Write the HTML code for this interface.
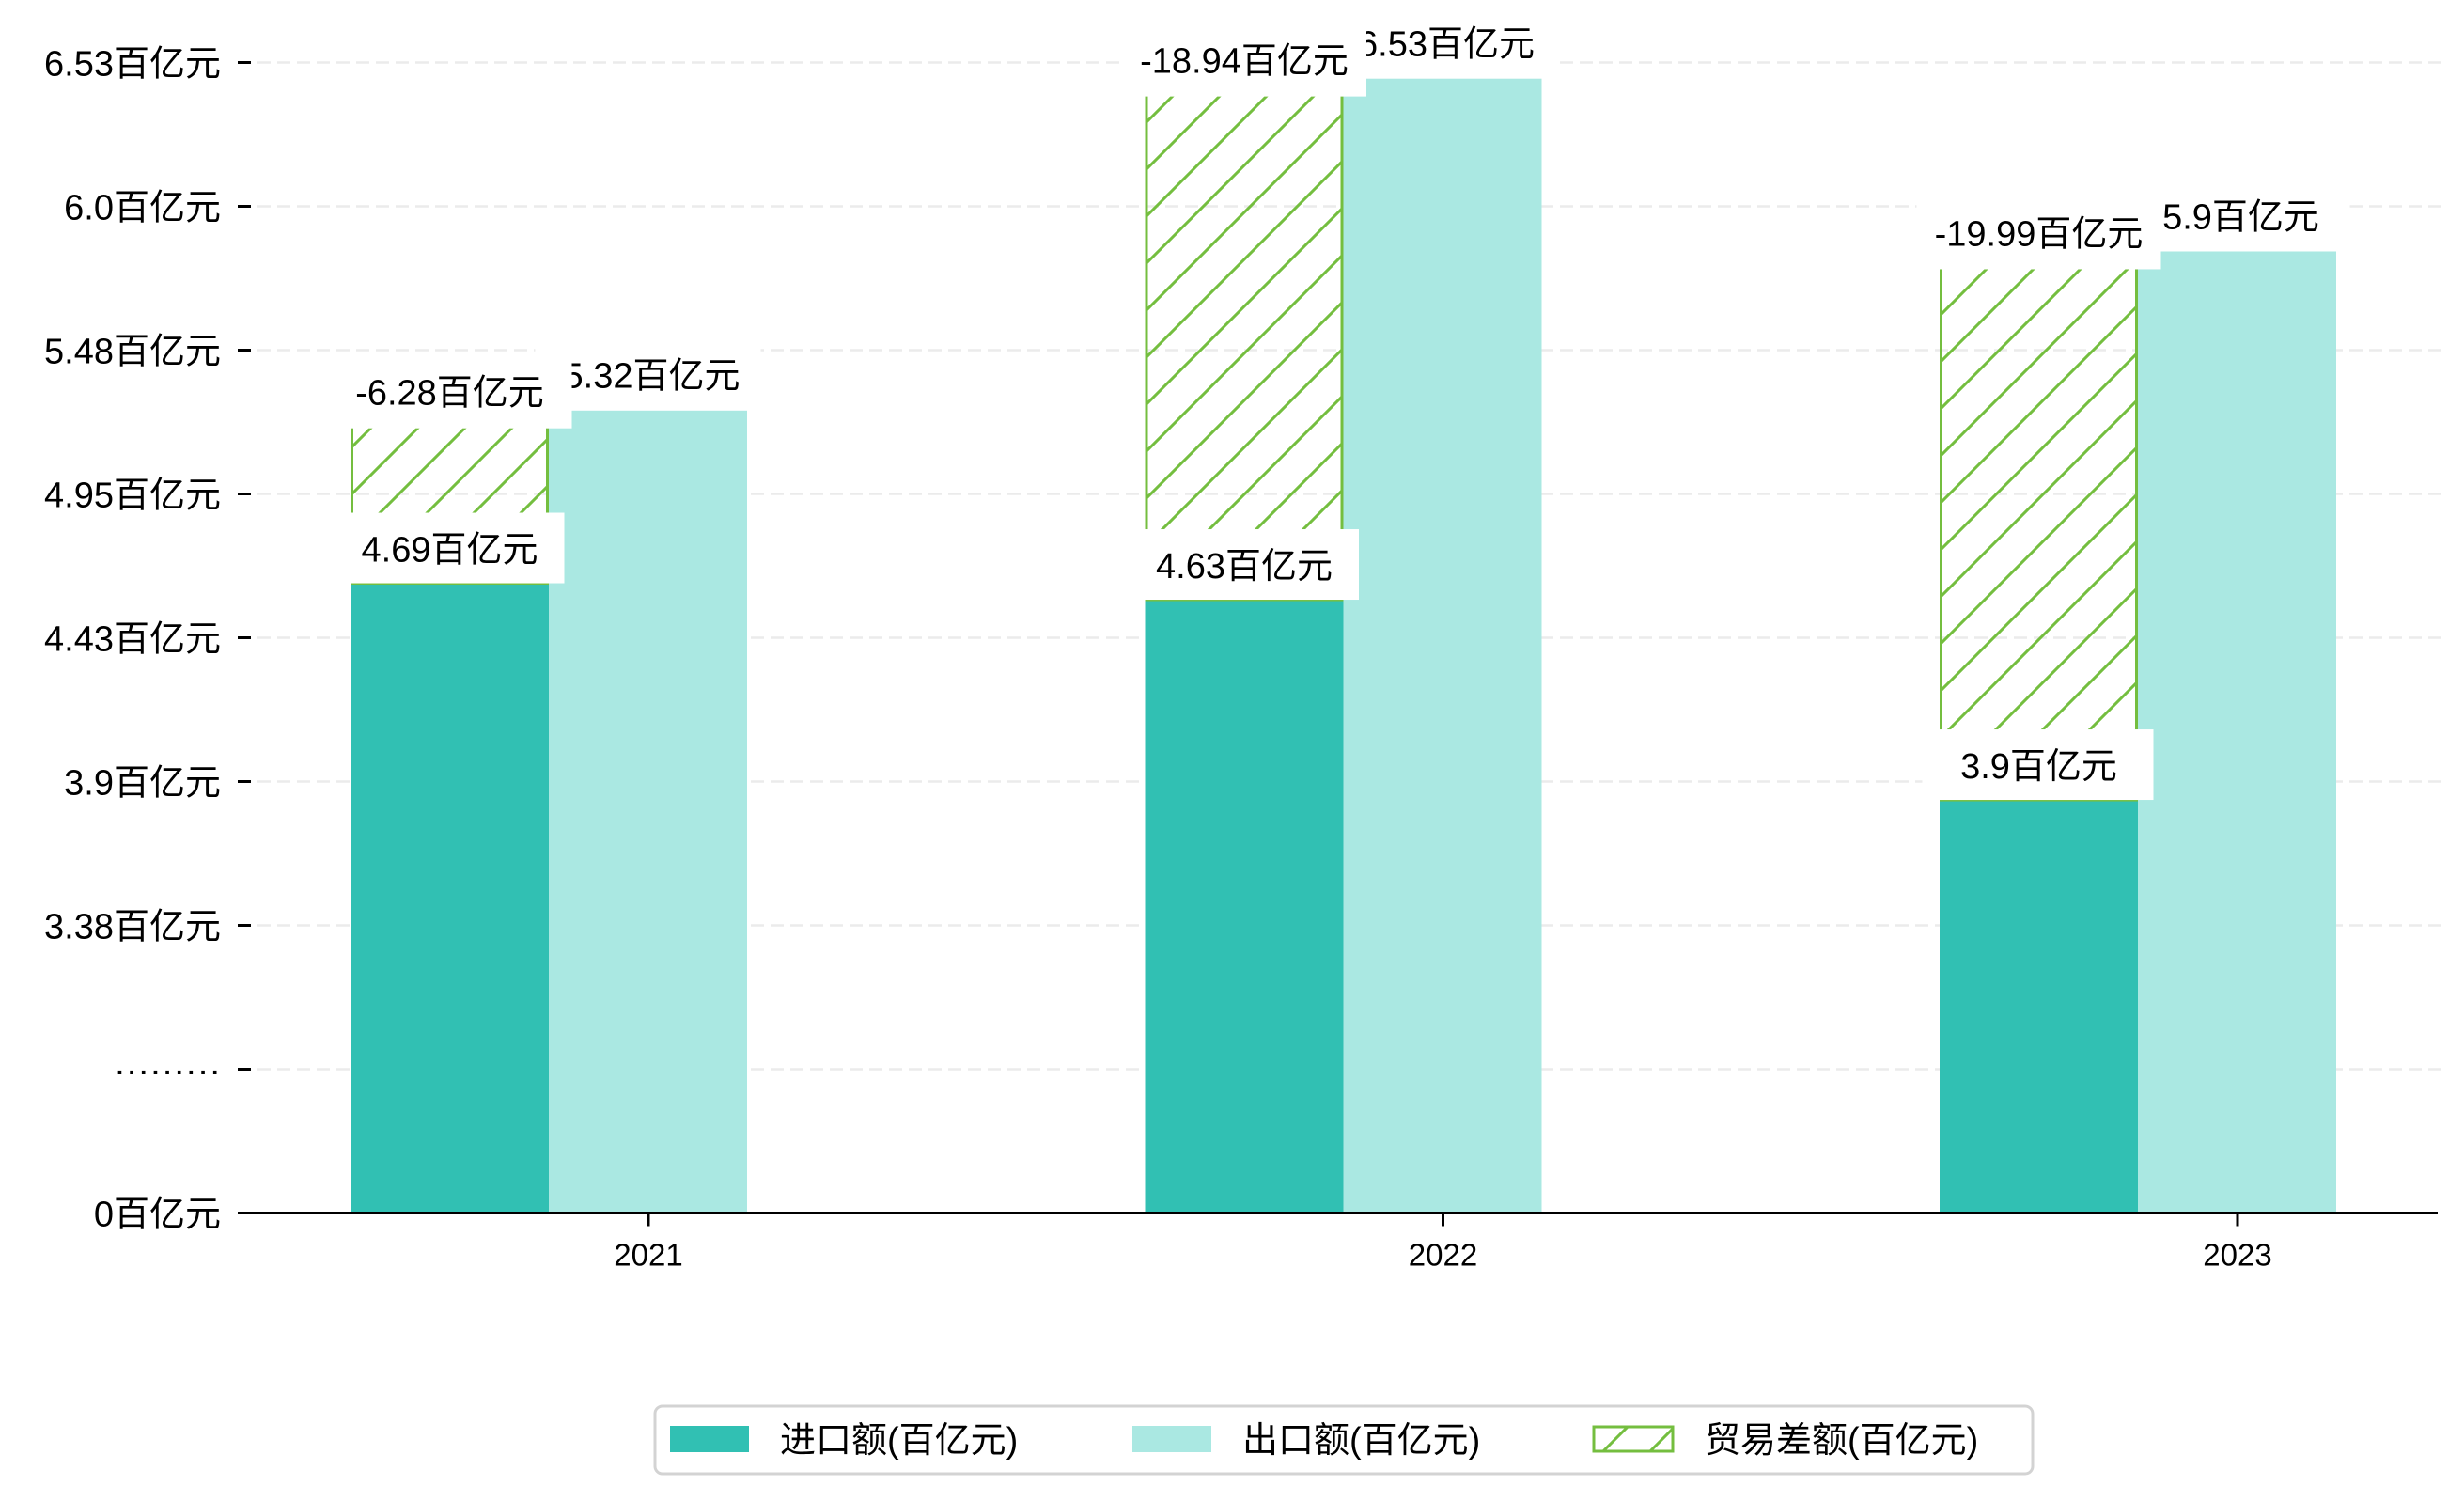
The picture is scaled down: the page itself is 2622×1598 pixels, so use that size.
<!DOCTYPE html>
<html><head><meta charset="utf-8"><style>
html,body{margin:0;padding:0;background:#fff;}
svg{display:block;}
text{font-family:"Liberation Sans","Noto Sans CJK SC",sans-serif;fill:#000;}
</style></head><body>
<svg id="chart" width="2622" height="1598" viewBox="0 0 2622 1598" xmlns="http://www.w3.org/2000/svg">
<defs>
<pattern id="hatch" patternUnits="userSpaceOnUse" width="50" height="50">
<path d="M-5,5 L5,-5 M0,50 L50,0 M45,55 L55,45" stroke="#74be3f" stroke-width="3"/>
</pattern>
</defs>
<g id="grid"></g>
<g id="yaxis"></g>
<g id="bars"></g>
<g id="labels"></g>
<line x1="253" y1="1290.5" x2="2594" y2="1290.5" stroke="#000" stroke-width="3"/>
<g id="xaxis"></g>
<g>
<rect x="697" y="1496" width="1466" height="72" rx="8" fill="#fff" stroke="#d3d3d3" stroke-width="3"/>
<g>
<rect x="713" y="1517" width="84" height="28" fill="#31c0b3"/>
<text x="830" y="1545" font-size="38">进口额(百亿元)</text></g>
<g>
<rect x="1205" y="1517" width="84" height="28" fill="#aae8e2"/>
<text x="1322" y="1545" font-size="38">出口额(百亿元)</text></g>
<g>
<rect x="1696" y="1518" width="84" height="26" fill="url(#hatch)" stroke="#74be3f" stroke-width="3"/>
<text x="1814" y="1545" font-size="38">贸易差额(百亿元)</text></g>
</g>
</svg>
<script>
const categories = ["2021", "2022", "2023"];
const importValues = [4.69, 4.63, 3.9];
const exportValues = [5.32, 6.53, 5.9];
const balanceLabels = ["-6.28百亿元", "-18.94百亿元", "-19.99百亿元"];
const exportLabels = ["5.32百亿元", "6.53百亿元", "5.9百亿元"];
const importLabels = ["4.69百亿元", "4.63百亿元", "3.9百亿元"];
const yTickLabels = ["0百亿元", "·········", "3.38百亿元", "3.9百亿元", "4.43百亿元", "4.95百亿元", "5.48百亿元", "6.0百亿元", "6.53百亿元"];

const NS = "http://www.w3.org/2000/svg";
const base = 1290.5, v0 = 2.394, k = 291.8;
function y(v){ return Math.min(base, base - (v - v0) * k); }
function xc(i){ return 690 + i * 845.5; }
const bw = 211;
function mk(tag, attrs, parent){ const e = document.createElementNS(NS, tag); for (const a in attrs) e.setAttribute(a, attrs[a]); parent.appendChild(e); return e; }

const grid = document.getElementById('grid'), yaxis = document.getElementById('yaxis');
yTickLabels.forEach((t, i) => {
  const ty = base - i * 153;
  if (i > 0) {
    const g = mk('line', {x1:253, y1:ty, x2:2604, y2:ty, stroke:'#ebebeb', 'stroke-width':2.5, 'stroke-dasharray':'14,7'}, grid);
    
    
  }
  const tk = mk('line', {x1:253, y1:ty, x2:267, y2:ty, stroke:'#000', 'stroke-width':3}, yaxis);
  
  
  const tx = mk('text', {x:235, y:ty + 14, 'font-size':38, 'text-anchor':'end'}, yaxis);
  tx.textContent = t;
  
  
});

const bars = document.getElementById('bars'), labels = document.getElementById('labels'), xaxis = document.getElementById('xaxis');
categories.forEach((c, i) => {
  const ix = xc(i) - 317, ex = ix + bw;
  const yi = y(importValues[i]), ye = y(exportValues[i]);
  const b1 = mk('rect', {x:ix, y:yi, width:bw, height:base - yi, fill:'#31c0b3'}, bars);
  
  
  const b2 = mk('rect', {x:ex, y:ye, width:bw, height:base - ye, fill:'#aae8e2'}, bars);
  
  
  const b3 = mk('rect', {x:ix + 1.5, y:ye, width:bw - 3, height:yi - ye, fill:'url(#hatch)', stroke:'#74be3f', 'stroke-width':3}, bars);
  
  

  const ecx = ex + bw / 2;
  mk('rect', {x:ecx - 120, y:ye - 75, width:240, height:75, fill:'#fff'}, labels);
  const t2 = mk('text', {x:ecx + 4, y:ye - 24, 'font-size':38, 'text-anchor':'middle'}, labels);
  t2.textContent = exportLabels[i];
  
  
  const icx = ix + bw / 2;
  mk('rect', {x:icx - 130, y:ye - 57, width:260, height:76, fill:'#fff'}, labels);
  const t3 = mk('text', {x:icx, y:ye - 6, 'font-size':38, 'text-anchor':'middle'}, labels);
  t3.textContent = balanceLabels[i];
  
  
  mk('rect', {x:icx - 124, y:yi - 75, width:246, height:75, fill:'#fff'}, labels);
  const t1 = mk('text', {x:icx, y:yi - 23, 'font-size':38, 'text-anchor':'middle'}, labels);
  t1.textContent = importLabels[i];
  
  

  const tk = mk('line', {x1:xc(i), y1:base, x2:xc(i), y2:base + 14, stroke:'#000', 'stroke-width':3}, xaxis);
  
  
  const xt = mk('text', {x:xc(i), y:base + 56, 'font-size':33, 'text-anchor':'middle'}, xaxis);
  xt.textContent = c;
  
  
});
</script>
</body></html>
